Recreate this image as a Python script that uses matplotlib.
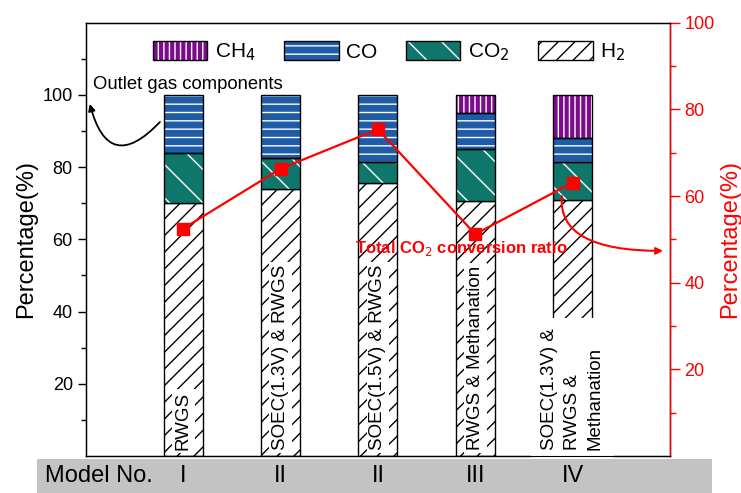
import numpy as np
import matplotlib
matplotlib.use('Agg')
import matplotlib.pyplot as plt
from matplotlib.patches import Patch, Rectangle
from matplotlib import transforms

plt.rcParams['font.family'] = ['Liberation Sans', 'DejaVu Sans']
plt.rcParams['hatch.linewidth'] = 1.0

# 出口气体组成 (%)，按模型顺序
models = ['I', 'II', 'II', 'III', 'IV']
bar_labels = ['RWGS', 'SOEC(1.3V) & RWGS', 'SOEC(1.5V) & RWGS',
              'RWGS & Methanation', 'SOEC(1.3V) &\nRWGS &\nMethanation']
h2 = [70.0, 74.0, 75.5, 70.5, 71.0]
co2 = [14.0, 8.5, 6.0, 14.5, 10.5]
co = [16.0, 17.5, 18.5, 10.0, 6.5]
ch4 = [0.0, 0.0, 0.0, 5.0, 12.0]
# CO2 总转化率 (%)，右轴
conversion = [52.5, 66.3, 75.4, 51.2, 63.1]

gas_names = ['CH$_4$', 'CO', 'CO$_2$', 'H$_2$']
gas_colors = {'CH4': '#7d0c8c', 'CO': '#1f5ca8', 'CO2': '#0f766c'}
gas_hatch = {'CH4': '|||', 'CO': '--', 'CO2': '\\'}


def colored_bar(ax, x, h, bottom, width, color, hatch):
    """彩色填充 + 白色阴影线，再叠加黑色外框"""
    ax.bar(x, h, width, bottom=bottom, color=color, edgecolor='white',
           hatch=hatch, linewidth=0, zorder=2)
    ax.bar(x, h, width, bottom=bottom, fill=False, edgecolor='black',
           linewidth=1.0, zorder=3)


def main():
    fig = plt.figure(figsize=(7.41, 4.93), dpi=100)
    ax = fig.add_axes([0.116, 0.075, 0.788, 0.879])
    x = np.arange(1, len(models) + 1)
    w = 0.4

    h2_arr = np.array(h2)
    co2_arr = np.array(co2)
    co_arr = np.array(co)
    ch4_arr = np.array(ch4)

    # H2 白底黑色斜线
    ax.bar(x, h2_arr, w, color='white', edgecolor='black', hatch='//',
           linewidth=1.0, zorder=2)
    colored_bar(ax, x, co2_arr, h2_arr, w, gas_colors['CO2'], gas_hatch['CO2'])
    colored_bar(ax, x, co_arr, h2_arr + co2_arr, w, gas_colors['CO'], gas_hatch['CO'])
    m = ch4_arr > 0
    colored_bar(ax, x[m], ch4_arr[m], (h2_arr + co2_arr + co_arr)[m], w,
                gas_colors['CH4'], gas_hatch['CH4'])

    # 柱内竖排工艺说明
    for i, (xi, lab) in enumerate(zip(x, bar_labels)):
        pad = 0.15 if i < 4 else 0.55
        ax.text(xi, 1.6, lab, rotation=90, ha='center', va='bottom',
                fontsize=13.5, linespacing=1.45, multialignment='left',
                zorder=4,
                bbox=dict(boxstyle='square,pad=%s' % pad, fc='white', ec='none'))

    ax.set_xlim(0, 6)
    ax.set_ylim(0, 120)
    ax.set_xticks([])
    ax.set_yticks([20, 40, 60, 80, 100])
    ax.set_yticks(np.arange(10, 120, 20), minor=True)
    ax.tick_params(axis='y', which='major', direction='out', length=6,
                   width=1, labelsize=13)
    ax.tick_params(axis='y', which='minor', direction='out', length=3.5, width=1)
    ax.set_ylabel('Percentage(%)', fontsize=17, labelpad=4)
    for s in ax.spines.values():
        s.set_linewidth(1.0)

    # 右轴：转化率
    ax2 = ax.twinx()
    ax2.plot(x, conversion, color='red', lw=1.6, marker='s', markersize=9,
             zorder=5)
    ax2.set_ylim(0, 100)
    ax2.set_yticks([20, 40, 60, 80, 100])
    ax2.set_yticks(np.arange(10, 100, 20), minor=True)
    ax2.tick_params(axis='y', which='major', colors='red', direction='out',
                    length=7, width=1, labelsize=13)
    ax2.tick_params(axis='y', which='minor', colors='red', direction='out',
                    length=4, width=1)
    ax2.spines['right'].set_color('red')
    ax2.spines['right'].set_linewidth(1.0)
    ax2.set_ylabel('Percentage(%)', color='red', fontsize=17, labelpad=3)

    # 图例
    handles = [
        (Patch(fc=gas_colors['CH4'], ec='white', hatch=gas_hatch['CH4'], lw=0),
         Patch(fill=False, ec='black', lw=1)),
        (Patch(fc=gas_colors['CO'], ec='white', hatch=gas_hatch['CO'], lw=0),
         Patch(fill=False, ec='black', lw=1)),
        (Patch(fc=gas_colors['CO2'], ec='white', hatch=gas_hatch['CO2'], lw=0),
         Patch(fill=False, ec='black', lw=1)),
        Patch(fc='white', ec='black', hatch='//', lw=1),
    ]
    ax.legend(handles, gas_names, ncol=4, loc='center', bbox_to_anchor=(0.519, 0.932),
              frameon=False, fontsize=15, handlelength=2.6, handleheight=1.0,
              handletextpad=0.35, columnspacing=1.4, borderpad=0)

    # 注释
    ax.text(0.07, 102.8, 'Outlet gas components', fontsize=13.3, va='center', ha='left')
    ax.annotate('', xy=(0.04, 97.5), xytext=(0.76, 92.5),
                arrowprops=dict(arrowstyle='-|>', color='black', lw=1.3,
                                connectionstyle='arc3,rad=-0.9',
                                shrinkA=0, shrinkB=0))
    ax.text(3.86, 57.6, 'Total CO$_2$ conversion ratio', color='red',
            fontsize=12, fontweight='bold', ha='center', va='center', zorder=6)
    ax.annotate('', xy=(5.93, 56.8), xytext=(4.89, 72.0),
                arrowprops=dict(arrowstyle='-|>', color='red', lw=1.5,
                                connectionstyle='angle3,angleA=-95,angleB=0',
                                shrinkA=0, shrinkB=0), zorder=6)

    # 底部灰色模型编号栏
    fig.patches.append(Rectangle((37 / 741, 0), 675 / 741, 34 / 493,
                                 transform=fig.transFigure, fc='#c3c3c3',
                                 ec='none', zorder=0))
    fig.text(45 / 741, 17 / 493, 'Model No.', fontsize=17, va='center', ha='left')
    tr = transforms.blended_transform_factory(ax.transData, fig.transFigure)
    for xi, name in zip(x, models):
        fig.text(xi, 17 / 493, name, transform=tr, fontsize=17,
                 va='center', ha='center')

    fig.savefig('out.png', dpi=100)


if __name__ == '__main__':
    main()
